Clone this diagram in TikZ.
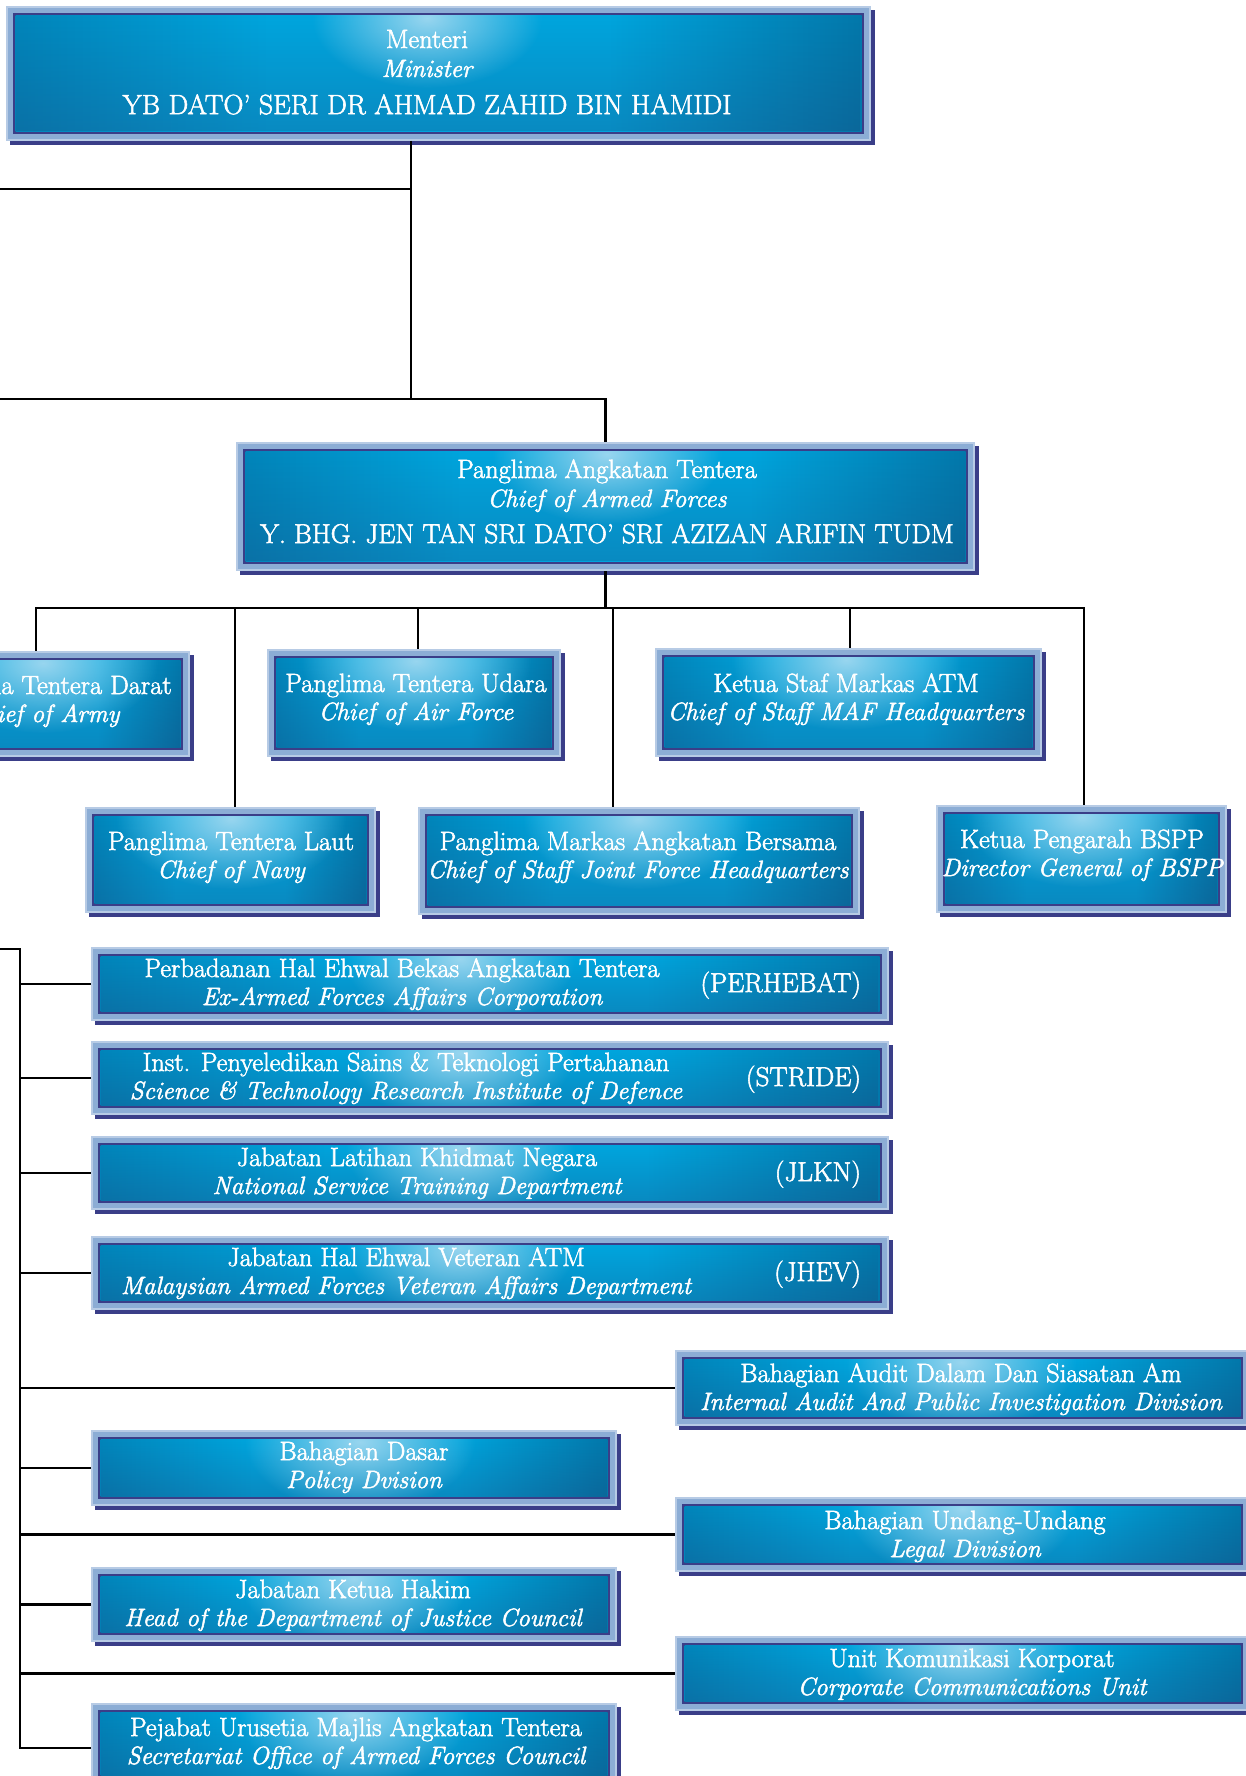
\documentclass[tikz,border=0pt]{standalone}
\usepackage{fontspec}
\newfontfamily\boxfont{Latin Modern Roman}[FakeBold=2]
\usetikzlibrary{fadings}
\definecolor{csA}{HTML}{1C4E80}
\definecolor{csB}{HTML}{0274A8}
\definecolor{csC}{HTML}{00A5DD}
\definecolor{csE}{HTML}{03699A}
\definecolor{csD}{HTML}{2A3868}
\definecolor{framec}{HTML}{8CADD5}
\definecolor{framelt}{HTML}{B7CBE5}
\definecolor{navyc}{HTML}{3A3E88}
\definecolor{glowc}{HTML}{BEE2F4}
\pgfdeclarehorizontalshading{boxsh}{100bp}{color(0bp)=(csA); color(17bp)=(csB); color(40bp)=(csC); color(60bp)=(csC); color(80bp)=(csE); color(100bp)=(csD)}
\tikzfading[name=glow, inner color=transparent!20, outer color=transparent!100]
\tikzfading[name=botdark, top color=transparent!100, bottom color=transparent!78]
\tikzset{
  conn/.style={line width=2.2pt, black},
  boxnode/.style={inner sep=0pt, outer sep=0pt, draw=none, rectangle},
  txt/.style={text=white, align=center, inner sep=0pt, outer sep=0pt, font=\boxfont\fontsize{26.4}{28}\selectfont, anchor=north},
  acr/.style={text=white, inner sep=0pt, outer sep=0pt, font=\boxfont\fontsize{27.2}{28}\selectfont, anchor=base east},
}
\newcommand\itx[1]{{\fontsize{25}{28}\selectfont\itshape #1}}
\newcommand\capx[2][27.2]{{\fontsize{#1}{28}\selectfont #2}}
% #1 name, #2 x1, #3 y1, #4 x2, #5 y2, #6 glow x
\newcommand\orgbox[6]{%
  \fill[navyc] ({(#2)+4},{(#3)+4}) rectangle ({(#4)+4},{(#5)+4});
  \fill[framelt] (#2,#3) rectangle (#4,#5);
  \fill[framec] ({(#2)+2},{(#3)+2}) rectangle ({(#4)-2},{(#5)-2});
  \fill[navyc] ({(#2)+7},{(#3)+7}) rectangle ({(#4)-7},{(#5)-7});
  \begin{scope}
    \clip ({(#2)+9.5},{(#3)+9.5}) rectangle ({(#4)-9.5},{(#5)-9.5});
    \shade[shading=boxsh] ({(#2)+9.5},{(#3)+9.5}) rectangle ({(#4)-9.5},{(#5)-9.5});
    \fill[navyc!70!black, path fading=botdark] ({(#2)+9.5},{(#3)+9.5}) rectangle ({(#4)-9.5},{(#5)-9.5});
    \fill[glowc, path fading=glow] (#6,{(#3)+12}) ellipse [x radius=115, y radius=70];
  \end{scope}
  \node[boxnode, minimum width={((#4)-(#2))*1pt}, minimum height={((#5)-(#3))*1pt}] (#1) at ({((#2)+(#4))/2},{((#3)+(#5))/2}) {};
}
% #1 name, #2 x center, #3 first baseline, #4 text
\newcommand\orgtext[4]{\node[txt] (#1) at (#2,{(#3)-19.6}) {#4};}
\begin{document}
\begin{tikzpicture}[x=1pt,y=-1pt]
\useasboundingbox[fill=white] (0,0) rectangle (1245,1776);

% level 0 and 1
\orgbox{menteri}{6}{6}{871}{141}{427}
\orgtext{menteri-t}{427}{48}{\strut Menteri\\[1pt]\strut\itx{Minister}\\[8pt]\strut\capx[27.9]{YB DATO’ SERI DR AHMAD ZAHID BIN HAMIDI}}

\orgbox{pat}{236}{442}{975}{571}{607}
\orgtext{pat-t}{607}{478}{\strut Panglima Angkatan Tentera\\[1pt]\strut\itx{Chief of Armed Forces}\\[8pt]\strut\capx{Y. BHG. JEN TAN SRI DATO’ SRI AZIZAN ARIFIN TUDM}}

% level 2
\orgbox{darat}{-104}{651}{190}{757}{43}
\orgtext{darat-t}{43}{694}{\strut Panglima Tentera Darat\\\strut\itx{Chief of Army}}
\orgbox{udara}{267}{649}{561}{757}{416}
\orgtext{udara-t}{416}{692}{\strut Panglima Tentera Udara\\\strut\itx{Chief of Air Force}}
\orgbox{kstaf}{655}{648}{1042}{757}{846}
\orgtext{kstaf-t}{846}{692}{\strut Ketua Staf Markas ATM\\\strut\itx{Chief of Staff MAF Headquarters}}
\orgbox{laut}{85}{807}{376}{913}{231}
\orgtext{laut-t}{231}{850}{\strut Panglima Tentera Laut\\\strut\itx{Chief of Navy}}
\orgbox{markas}{418}{807}{860}{915}{638}
\orgtext{markas-t}{638}{850}{\strut Panglima Markas Angkatan Bersama\\\strut\itx{Chief of Staff Joint Force Headquarters}}
\orgbox{bspp}{936}{805}{1227}{913}{1082}
\orgtext{bspp-t}{1082}{848}{\strut Ketua Pengarah BSPP\\\strut\itx{Director General of BSPP}}

% level 3
\orgbox{perhebat}{91}{947}{889}{1021}{460}
\orgtext{perhebat-t}{402}{977}{\strut Perbadanan Hal Ehwal Bekas Angkatan Tentera\\\strut\itx{Ex-Armed Forces Affairs Corporation}}
\node[acr] (perhebat-a) at (861,992) {(PERHEBAT)};
\orgbox{stride}{91}{1041}{889}{1115}{460}
\orgtext{stride-t}{406}{1071}{\strut Inst. Penyeledikan Sains \& Teknologi Pertahanan\\\strut\itx{Science \& Technology Research Institute of Defence}}
\node[acr] (stride-a) at (861,1086) {(STRIDE)};
\orgbox{jlkn}{91}{1136}{889}{1210}{460}
\orgtext{jlkn-t}{417}{1166}{\strut Jabatan Latihan Khidmat Negara\\\strut\itx{National Service Training Department}}
\node[acr] (jlkn-a) at (861,1181) {(JLKN)};
\orgbox{jhev}{91}{1236}{889}{1310}{460}
\orgtext{jhev-t}{406}{1266}{\strut Jabatan Hal Ehwal Veteran ATM\\\strut\itx{Malaysian Armed Forces Veteran Affairs Department}}
\node[acr] (jhev-a) at (861,1281) {(JHEV)};

% level 4
\orgbox{audit}{675}{1350}{1250}{1426}{961}
\orgtext{audit-t}{961}{1382}{\strut Bahagian Audit Dalam Dan Siasatan Am\\\strut\itx{Internal Audit And Public Investigation Division}}
\orgbox{dasar}{91}{1430}{617}{1506}{360}
\orgtext{dasar-t}{364}{1460}{\strut Bahagian Dasar\\\strut\itx{Policy Dvision}}
\orgbox{undang}{675}{1497}{1250}{1572}{962}
\orgtext{undang-t}{965}{1529}{\strut Bahagian Undang-Undang\\\strut\itx{Legal Division}}
\orgbox{hakim}{91}{1567}{617}{1642}{354}
\orgtext{hakim-t}{353}{1598}{\strut Jabatan Ketua Hakim\\\strut\itx{Head of the Department of Justice Council}}
\orgbox{unit}{675}{1636}{1250}{1711}{962}
\orgtext{unit-t}{972}{1667}{\strut Unit Komunikasi Korporat\\\strut\itx{Corporate Communications Unit}}
\orgbox{pejabat}{91}{1703}{617}{1790}{354}
\orgtext{pejabat-t}{356}{1736}{\strut Pejabat Urusetia Majlis Angkatan Tentera\\\strut\itx{Secretariat Office of Armed Forces Council}}

% connectors
\coordinate (mx) at (411,399);
\coordinate (e1) at (0,189);
\coordinate (e2) at (0,399);
\draw[conn] (mx |- menteri.south) -- (mx);
\draw[conn] (e1) -- (e1 -| mx);
\draw[conn] (e2) -- (e2 -| pat.north) -- (pat.north);

\coordinate (busL) at (36,608);
\coordinate (busR) at (1084,608);
\draw[conn, line cap=rect] (busL) -- (busR);
\draw[conn] (pat.south) -- (pat.south |- busL);
\foreach \n/\x in {darat/36, udara/418, kstaf/850, laut/235, markas/613, bspp/1084}{
  \coordinate (drop-\n) at (\x,608);
  \draw[conn] (drop-\n) -- (drop-\n |- \n.north);
}

\coordinate (e3) at (0,949);
\coordinate (bt) at (20,949);
\coordinate (bb) at (20,1748);
\draw[conn] (e3) -- (bt) -- (bb) -- (bb -| pejabat.west);
\foreach \n in {perhebat,stride,jlkn,jhev,audit,dasar,undang,hakim,unit}{
  \draw[conn] (bt |- \n.west) -- (\n.west);
}
\end{tikzpicture}
\end{document}
